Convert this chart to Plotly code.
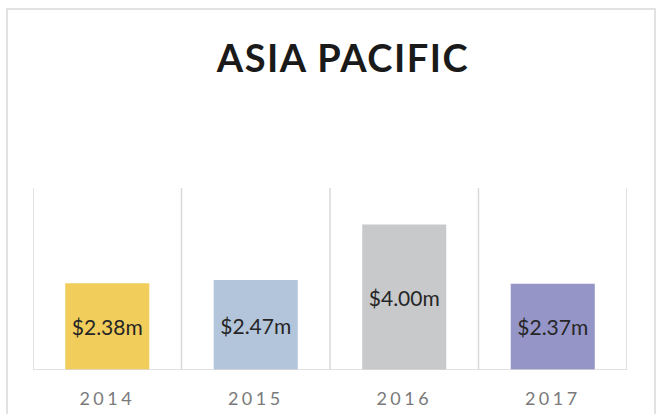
import plotly.graph_objects as go

years = ["2014", "2015", "2016", "2017"]
values = [2.38, 2.47, 4.00, 2.37]
labels = ["$2.38m", "$2.47m", "$4.00m", "$2.37m"]
colors = ["#F1CD5B", "#B3C5DB", "#C8C9CB", "#9595C8"]
title_text = "ASIA PACIFIC"

W, H = 672, 414
L, R, T, B = 33, 45, 188, 44

tick_text = ['<span style="letter-spacing:3.5px">' + y + '</span>' for y in years]

fig = go.Figure(go.Bar(
    x=years, y=values, marker=dict(color=colors, line=dict(width=0)),
    text=labels, textposition="inside", insidetextanchor="middle",
    textangle=0, constraintext="none",
    textfont=dict(family="Lato", size=21, color="#262626"),
    cliponaxis=False, hoverinfo="skip",
))

grid = "#D9D9D9"
shapes = []
for i in range(len(years) + 1):
    shapes.append(dict(type="line", xref="x", yref="y", x0=i - 0.5, x1=i - 0.5,
                       y0=0, y1=5, line=dict(color=grid, width=1.5), layer="below"))
shapes.append(dict(type="line", xref="x", yref="y", x0=-0.5, x1=len(years) - 0.5,
                   y0=0, y1=0, line=dict(color=grid, width=1.5), layer="above"))
pw, ph = W - L - R, H - T - B
shapes.append(dict(type="rect", xref="paper", yref="paper",
                   x0=(7 - L) / pw, x1=(655 - L) / pw,
                   y0=(H - B - 430) / ph, y1=(H - B - 9) / ph,
                   line=dict(color="#D9D9D9", width=1.5), fillcolor="rgba(0,0,0,0)", layer="below"))

fig.update_layout(
    width=W, height=H,
    margin=dict(l=L, r=R, t=T, b=B, autoexpand=False),
    paper_bgcolor="white", plot_bgcolor="white",
    bargap=0.434,
    showlegend=False,
    shapes=shapes,
    title=dict(text='<b><span style="letter-spacing:1.5px">' + title_text + '</span></b>',
               xref="paper", x=(343 - L) / pw, xanchor="center",
               yref="container", y=1 - 59 / H, yanchor="middle",
               font=dict(family="Lato", size=38, color="#1A1A1A")),
    xaxis=dict(type="category", range=[-0.5, 3.5], tickvals=years, ticktext=tick_text,
               showgrid=False, zeroline=False, showline=False, ticks="", automargin=False,
               tickfont=dict(family="Lato", size=18, color="#7A7A7A"), ticklabelstandoff=16),
    yaxis=dict(range=[0, 5], showgrid=False, zeroline=False, showline=False,
               showticklabels=False, ticks="", automargin=False),
)

fig.write_html("out.html", config={"displayModeBar": False},
               post_script="document.body.style.margin='0';")
